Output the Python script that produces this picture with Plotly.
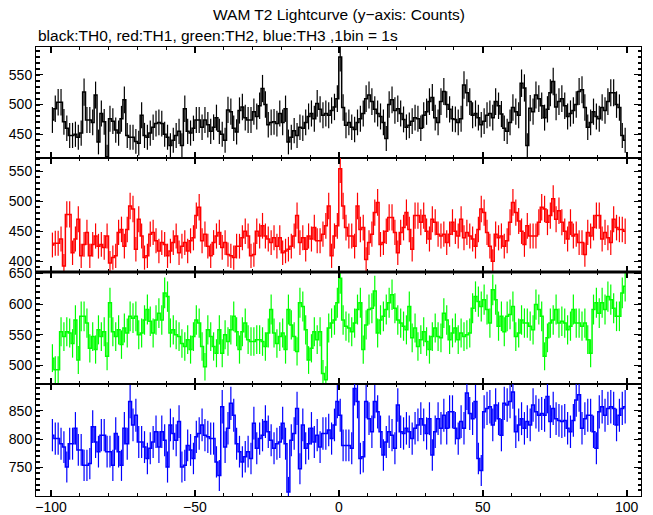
import numpy as np
import plotly.graph_objects as go
from plotly.subplots import make_subplots

# ---- data (counts per 1 s bin, 200 bins from -100 s to +100 s) ----
th0 = [474, 493, 504, 504, 471, 460, 448, 448, 450, 445,
       452, 521, 474, 474, 470, 516, 437, 485, 471, 412,
       476, 472, 457, 452, 476, 508, 448, 445, 445, 438,
       435, 482, 448, 445, 452, 462, 468, 470, 468, 450,
       445, 431, 440, 448, 455, 431, 493, 455, 452, 460,
       474, 474, 462, 474, 466, 455, 462, 478, 455, 450,
       440, 491, 488, 460, 454, 490, 496, 478, 474, 474,
       488, 480, 498, 527, 500, 466, 470, 471, 468, 485,
       470, 493, 437, 445, 456, 448, 462, 460, 470, 480,
       485, 476, 502, 492, 482, 485, 482, 490, 496, 510,
       580, 495, 465, 470, 462, 458, 470, 476, 485, 510,
       516, 505, 492, 485, 480, 470, 443, 500, 508, 490,
       493, 485, 475, 462, 465, 472, 478, 476, 460, 482,
       488, 505, 512, 478, 470, 505, 522, 500, 492, 476,
       475, 470, 476, 533, 520, 505, 482, 485, 478, 466,
       472, 482, 485, 478, 505, 498, 484, 460, 455, 470,
       495, 488, 482, 536, 528, 431, 494, 488, 516, 510,
       498, 478, 492, 520, 539, 496, 505, 510, 498, 480,
       485, 490, 500, 522, 525, 495, 462, 470, 488, 480,
       476, 495, 490, 505, 520, 520, 500, 495, 448, 440]

th1 = [427, 430, 430, 437, 392, 478, 478, 414, 437, 470,
       409, 428, 448, 409, 428, 442, 425, 428, 423, 442,
       397, 406, 409, 448, 453, 425, 453, 492, 487, 420,
       470, 442, 406, 409, 445, 448, 434, 417, 431, 428,
       409, 417, 431, 442, 414, 425, 431, 417, 434, 439,
       476, 490, 434, 445, 425, 409, 431, 442, 448, 423,
       431, 411, 409, 406, 425, 425, 439, 450, 442, 409,
       411, 450, 442, 459, 442, 437, 431, 439, 425, 439,
       414, 417, 420, 425, 442, 476, 431, 439, 420, 442,
       437, 456, 434, 434, 445, 459, 492, 409, 442, 459,
       554, 492, 456, 442, 442, 425, 492, 453, 456, 403,
       431, 445, 481, 498, 428, 431, 450, 473, 473, 448,
       414, 448, 456, 481, 453, 420, 476, 476, 465, 476,
       450, 437, 470, 465, 445, 442, 445, 431, 445, 465,
       450, 442, 470, 439, 448, 442, 437, 425, 453, 487,
       481, 448, 425, 400, 445, 439, 442, 425, 434, 465,
       498, 481, 467, 450, 428, 459, 442, 442, 442, 465,
       490, 487, 465, 476, 504, 470, 484, 465, 450, 437,
       465, 442, 445, 431, 431, 411, 448, 442, 456, 476,
       476, 437, 448, 439, 431, 470, 456, 453, 453, 450]

th2 = [512, 493, 493, 555, 547, 555, 553, 536, 574, 509,
       580, 580, 569, 528, 547, 526, 558, 547, 555, 515,
       602, 555, 547, 558, 534, 561, 553, 580, 577, 580,
       550, 553, 574, 591, 572, 553, 574, 585, 574, 618,
       612, 553, 558, 550, 547, 536, 531, 542, 526, 547,
       574, 569, 531, 498, 558, 547, 531, 520, 558, 520,
       550, 539, 558, 580, 555, 526, 555, 569, 542, 539,
       539, 542, 542, 539, 531, 553, 591, 553, 536, 547,
       553, 526, 591, 566, 547, 523, 602, 596, 558, 509,
       528, 555, 542, 555, 487, 477, 561, 569, 574, 602,
       642, 574, 564, 561, 555, 569, 591, 602, 526, 566,
       591, 593, 621, 553, 574, 580, 591, 602, 615, 593,
       574, 569, 564, 558, 596, 545, 561, 531, 542, 555,
       539, 526, 547, 561, 547, 545, 585, 574, 542, 553,
       561, 542, 553, 547, 550, 553, 593, 612, 604, 596,
       607, 591, 569, 623, 607, 564, 580, 555, 580, 583,
       596, 547, 553, 574, 569, 569, 564, 558, 599, 591,
       580, 515, 545, 569, 574, 591, 569, 572, 569, 558,
       564, 591, 569, 569, 564, 569, 542, 520, 591, 602,
       585, 602, 591, 612, 607, 593, 580, 580, 618, 629]

th3 = [807, 801, 801, 792, 786, 751, 792, 792, 819, 781,
       781, 754, 754, 757, 822, 795, 778, 807, 807, 778,
       778, 754, 810, 778, 754, 819, 792, 866, 825, 842,
       795, 795, 786, 766, 784, 795, 813, 786, 813, 798,
       751, 825, 810, 798, 831, 751, 754, 789, 781, 766,
       804, 810, 825, 807, 804, 801, 801, 760, 736, 857,
       786, 819, 863, 842, 792, 778, 760, 769, 778, 766,
       828, 784, 801, 807, 831, 813, 798, 784, 792, 795,
       828, 792, 707, 798, 810, 854, 748, 825, 784, 792,
       819, 795, 807, 786, 810, 810, 816, 801, 825, 866,
       842, 789, 789, 789, 784, 889, 866, 766, 769, 866,
       836, 813, 866, 848, 813, 772, 795, 813, 807, 784,
       860, 813, 810, 819, 813, 801, 819, 825, 836, 825,
       810, 836, 772, 813, 836, 819, 842, 819, 848, 848,
       819, 801, 831, 819, 881, 845, 836, 866, 766, 745,
       848, 854, 857, 825, 860, 836, 807, 863, 860, 866,
       883, 813, 825, 836, 819, 831, 825, 860, 848, 842,
       845, 842, 875, 831, 854, 836, 833, 831, 833, 819,
       813, 833, 869, 878, 819, 836, 842, 842, 813, 784,
       848, 857, 842, 854, 857, 854, 825, 842, 854, 857]

series = [th0, th1, th2, th3]
colors = ["#000000", "#ff0000", "#00ff00", "#0000ff"]
y_ranges = [[410, 597], [382, 572], [470, 652], [700, 897]]
x_ticks = [-100, -50, 0, 50, 100]
y_ticks = [[450, 500, 550], [400, 450, 500, 550], [500, 550, 600, 650], [750, 800, 850]]

t = np.arange(200) - 99.5  # bin centres (1 s bins)

fig = make_subplots(rows=4, cols=1, shared_xaxes=True, vertical_spacing=0)

for k, (vals, col) in enumerate(zip(series, colors)):
    v = np.array(vals, dtype=float)
    fig.add_trace(go.Scatter(
        x=t, y=v, mode="lines", line=dict(color=col, width=1.5, shape="hvh"),
        error_y=dict(type="data", array=np.sqrt(v), color=col, thickness=1.2, width=0),
        showlegend=False, hoverinfo="skip"), row=k + 1, col=1)

H = 449.0
bounds = [47, 158, 272, 384, 496]
font = "Liberation Sans, Arial, Helvetica, sans-serif"
for k in range(4):
    top = (496 - bounds[k]) / H
    bot = (496 - bounds[k + 1]) / H
    yname = "yaxis" if k == 0 else f"yaxis{k+1}"
    xname = "xaxis" if k == 0 else f"xaxis{k+1}"
    fig.layout[yname].update(
        domain=[bot, top], range=y_ranges[k], tickvals=y_ticks[k], automargin=False,
        ticks="inside", ticklen=7, tickwidth=1, tickcolor="black",
        mirror="ticks", showline=True, linecolor="black", linewidth=1,
        showgrid=False, zeroline=False,
        minor=dict(dtick=10, ticks="inside", ticklen=3.5, tickwidth=1.5, tickcolor="black", showgrid=False),
        tickfont=dict(family=font, size=14, color="black"))
    fig.layout[xname].update(
        range=[-105.2, 105], tickvals=x_ticks, automargin=False,
        ticks="inside", ticklen=6, tickwidth=2, tickcolor="black",
        mirror="ticks", showline=True, linecolor="black", linewidth=1,
        showgrid=False, zeroline=False, showticklabels=(k == 3), ticklabelstandoff=-2,
        minor=dict(dtick=10, ticks="inside", ticklen=3, tickwidth=1, tickcolor="black", showgrid=False),
        tickfont=dict(family=font, size=14, color="black"))

# thicker separator between red and green panels
fig.add_shape(type="line", xref="paper", yref="paper", x0=0, x1=1,
              y0=(496 - 272) / H, y1=(496 - 272) / H, line=dict(color="black", width=3))

fig.add_annotation(text="WAM T2 Lightcurve (y\u2212axis: Counts)", xref="paper", yref="paper",
                   x=0.5, y=1, yshift=33, xanchor="center", yanchor="middle", showarrow=False,
                   font=dict(family=font, size=15.5, color="black"))
fig.add_annotation(text="black:TH0, red:TH1, green:TH2, blue:TH3 ,1bin = 1s", xref="paper", yref="paper",
                   x=0, y=1, xshift=0, yshift=12, xanchor="left", yanchor="middle", showarrow=False,
                   font=dict(family=font, size=15.5, color="black"))

fig.update_layout(width=653, height=515, margin=dict(l=36, r=12, t=47, b=19, autoexpand=False),
                  paper_bgcolor="white", plot_bgcolor="white")
fig.write_html("out.html", config={"displayModeBar": False},
               post_script="document.body.style.margin='0';document.body.style.overflow='hidden';")
